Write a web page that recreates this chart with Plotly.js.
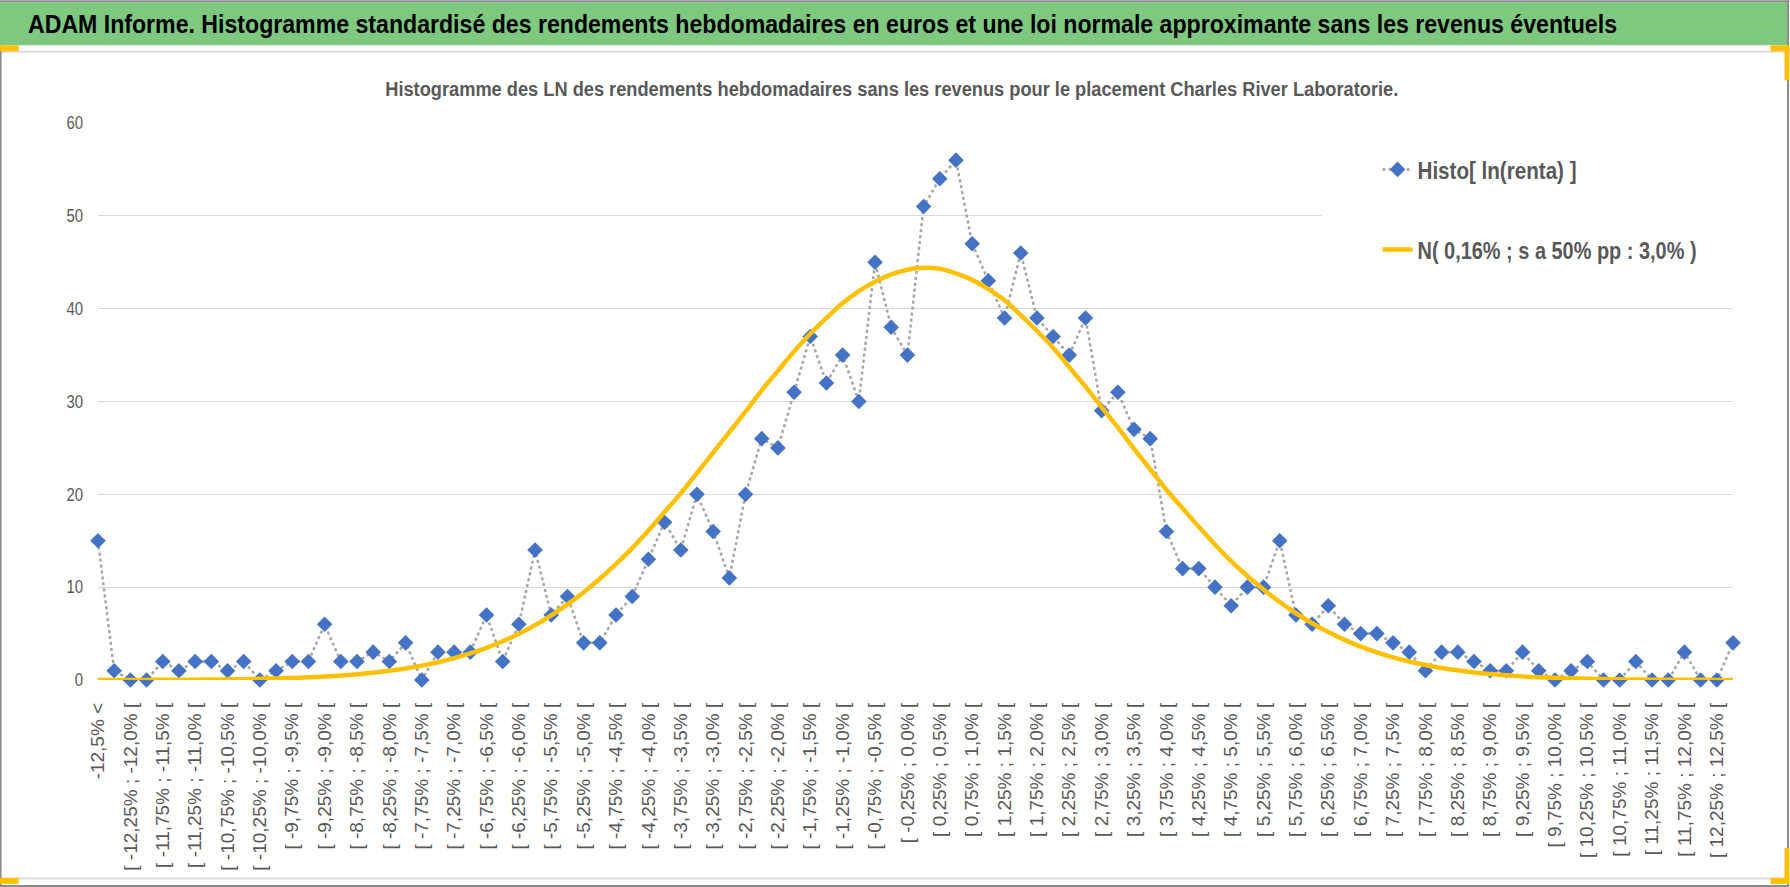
<!DOCTYPE html>
<html>
<head>
<meta charset="utf-8">
<script src="https://cdn.plot.ly/plotly-3.0.1.min.js"></script>
<style>
  html, body { margin: 0; padding: 0; background: #ffffff; }
  #chart { width: 1790px; height: 887px; }
</style>
</head>
<body>
<div id="chart"></div>
<script>
// ---- Category labels (bins of the weekly log-returns) ----
var binLabels = [
  "-12,5% <",
  "[ -12,5% ; -12,25% [", "[ -12,25% ; -12,0% [", "[ -12,0% ; -11,75% [", "[ -11,75% ; -11,5% [",
  "[ -11,5% ; -11,25% [", "[ -11,25% ; -11,0% [", "[ -11,0% ; -10,75% [", "[ -10,75% ; -10,5% [",
  "[ -10,5% ; -10,25% [", "[ -10,25% ; -10,0% [", "[ -10,0% ; -9,75% [", "[ -9,75% ; -9,5% [",
  "[ -9,5% ; -9,25% [", "[ -9,25% ; -9,0% [", "[ -9,0% ; -8,75% [", "[ -8,75% ; -8,5% [",
  "[ -8,5% ; -8,25% [", "[ -8,25% ; -8,0% [", "[ -8,0% ; -7,75% [", "[ -7,75% ; -7,5% [",
  "[ -7,5% ; -7,25% [", "[ -7,25% ; -7,0% [", "[ -7,0% ; -6,75% [", "[ -6,75% ; -6,5% [",
  "[ -6,5% ; -6,25% [", "[ -6,25% ; -6,0% [", "[ -6,0% ; -5,75% [", "[ -5,75% ; -5,5% [",
  "[ -5,5% ; -5,25% [", "[ -5,25% ; -5,0% [", "[ -5,0% ; -4,75% [", "[ -4,75% ; -4,5% [",
  "[ -4,5% ; -4,25% [", "[ -4,25% ; -4,0% [", "[ -4,0% ; -3,75% [", "[ -3,75% ; -3,5% [",
  "[ -3,5% ; -3,25% [", "[ -3,25% ; -3,0% [", "[ -3,0% ; -2,75% [", "[ -2,75% ; -2,5% [",
  "[ -2,5% ; -2,25% [", "[ -2,25% ; -2,0% [", "[ -2,0% ; -1,75% [", "[ -1,75% ; -1,5% [",
  "[ -1,5% ; -1,25% [", "[ -1,25% ; -1,0% [", "[ -1,0% ; -0,75% [", "[ -0,75% ; -0,5% [",
  "[ -0,5% ; -0,25% [", "[ -0,25% ; 0,0% [",
  "[ 0,0% ; 0,25% [", "[ 0,25% ; 0,5% [", "[ 0,5% ; 0,75% [", "[ 0,75% ; 1,0% [",
  "[ 1,0% ; 1,25% [", "[ 1,25% ; 1,5% [", "[ 1,5% ; 1,75% [", "[ 1,75% ; 2,0% [",
  "[ 2,0% ; 2,25% [", "[ 2,25% ; 2,5% [", "[ 2,5% ; 2,75% [", "[ 2,75% ; 3,0% [",
  "[ 3,0% ; 3,25% [", "[ 3,25% ; 3,5% [", "[ 3,5% ; 3,75% [", "[ 3,75% ; 4,0% [",
  "[ 4,0% ; 4,25% [", "[ 4,25% ; 4,5% [", "[ 4,5% ; 4,75% [", "[ 4,75% ; 5,0% [",
  "[ 5,0% ; 5,25% [", "[ 5,25% ; 5,5% [", "[ 5,5% ; 5,75% [", "[ 5,75% ; 6,0% [",
  "[ 6,0% ; 6,25% [", "[ 6,25% ; 6,5% [", "[ 6,5% ; 6,75% [", "[ 6,75% ; 7,0% [",
  "[ 7,0% ; 7,25% [", "[ 7,25% ; 7,5% [", "[ 7,5% ; 7,75% [", "[ 7,75% ; 8,0% [",
  "[ 8,0% ; 8,25% [", "[ 8,25% ; 8,5% [", "[ 8,5% ; 8,75% [", "[ 8,75% ; 9,0% [",
  "[ 9,0% ; 9,25% [", "[ 9,25% ; 9,5% [", "[ 9,5% ; 9,75% [", "[ 9,75% ; 10,0% [",
  "[ 10,0% ; 10,25% [", "[ 10,25% ; 10,5% [", "[ 10,5% ; 10,75% [", "[ 10,75% ; 11,0% [",
  "[ 11,0% ; 11,25% [", "[ 11,25% ; 11,5% [", "[ 11,5% ; 11,75% [", "[ 11,75% ; 12,0% [",
  "[ 12,0% ; 12,25% [", "[ 12,25% ; 12,5% [",
  "12,5% ≤"
];

// ---- Histogram counts ----
var histoCounts = [
  15, 1, 0, 0, 2, 1, 2, 2, 1, 2,
  0, 1, 2, 2, 6, 2, 2, 3, 2, 4,
  0, 3, 3, 3, 7, 2, 6, 14, 7, 9,
  4, 4, 7, 9, 13, 17, 14, 20, 16, 11,
  20, 26, 25, 31, 37, 32, 35, 30, 45, 38,
  35, 51, 54, 56, 47, 43, 39, 46, 39, 37,
  35, 39, 29, 31, 27, 26, 16, 12, 12, 10,
  8, 10, 10, 15, 7, 6, 8, 6, 5, 5,
  4, 3, 1, 3, 3, 2, 1, 1, 3, 1,
  0, 1, 2, 0, 0, 2, 0, 0, 3, 0,
  0, 4
];

// ---- Approximating normal curve ----
var normalCurve = [
  0, 0.01, 0.01, 0.01, 0.02, 0.02, 0.04, 0.05, 0.07, 0.09,
  0.13, 0.17, 0.22, 0.29, 0.37, 0.48, 0.62, 0.78, 0.99, 1.24,
  1.55, 1.91, 2.35, 2.86, 3.47, 4.17, 4.98, 5.91, 6.96, 8.14,
  9.46, 10.9, 12.5, 14.2, 16.1, 18.1, 20.1, 22.3, 24.5, 26.7,
  28.9, 31.2, 33.3, 35.4, 37.3, 39.0, 40.6, 41.9, 42.9, 43.7,
  44.2, 44.4, 44.3, 43.8, 43.1, 42.1, 40.9, 39.3, 37.6, 35.8,
  33.7, 31.6, 29.4, 27.2, 24.9, 22.7, 20.5, 18.5, 16.5, 14.6,
  12.8, 11.2, 9.75, 8.40, 7.19, 6.11, 5.16, 4.32, 3.60, 2.98,
  2.44, 1.99, 1.61, 1.30, 1.04, 0.82, 0.65, 0.51, 0.39, 0.30,
  0.23, 0.18, 0.13, 0.10, 0.07, 0.05, 0.04, 0.03, 0.02, 0.02,
  0.01, 0.01
];

var seriesNames = ["Histo[ ln(renta) ]", "N( 0,16% ; s a 50% pp : 3,0% )"];
var bannerText = "ADAM Informe. Histogramme standardisé des rendements hebdomadaires en euros et une loi normale approximante sans les revenus éventuels";
var chartTitle = "Histogramme des LN des rendements hebdomadaires sans les revenus pour le placement Charles River Laboratorie.";
var yTicks = [0, 10, 20, 30, 40, 50, 60];

// ---- Layout geometry ----
var W = 1790, H = 887;
var M = { l: 98.4, r: 56.5, t: 122.7, b: 207 };
var plotW = W - M.l - M.r, plotH = H - M.t - M.b;
function px(x) { return (x - M.l) / plotW; }
function py(y) { return (H - M.b - y) / plotH; }

var SANS = "'Liberation Sans', Arial, sans-serif";
var GREY_TXT = "#595959";

var traces = [
  {
    type: "scatter", mode: "lines+markers",
    x: binLabels, y: histoCounts,
    name: seriesNames[0], legendgroup: "g1",
    line: { color: "#a5a5a5", width: 2.5, dash: "dot" },
    marker: { symbol: "diamond", size: 12, color: "#4472c4", line: { width: 0 } },
    cliponaxis: false, hoverinfo: "x+y"
  },
  {
    type: "scatter", mode: "lines",
    x: binLabels, y: normalCurve,
    name: seriesNames[1], legendgroup: "g2",
    line: { color: "#ffc000", width: 4.5, shape: "spline", smoothing: 1 },
    cliponaxis: false, hoverinfo: "x+y"
  }
];

function rect(x0, y0, x1, y1, fill) {
  return { type: "rect", xref: "paper", yref: "paper", x0: px(x0), x1: px(x1), y0: py(y0), y1: py(y1),
           fillcolor: fill, line: { width: 0 }, layer: "above" };
}
function hline(x0, x1, y, color, w) {
  return { type: "line", xref: "paper", yref: "paper", x0: px(x0), x1: px(x1), y0: py(y), y1: py(y),
           line: { color: color, width: w }, layer: "above" };
}
function vline(x, y0, y1, color, w) {
  return { type: "line", xref: "paper", yref: "paper", x0: px(x), x1: px(x), y0: py(y0), y1: py(y1),
           line: { color: color, width: w }, layer: "above" };
}

var ORANGE = "#ffc000";
var shapes = [
  rect(0, 2, 1788, 45, "#7ec87f"),
  hline(0, 1790, 1, "#8c8c8c", 2),
  hline(0, 1788, 51.5, "#dcdcdc", 2),
  hline(0, 1788, 878.5, "#dcdcdc", 2),
  hline(0, 1790, 886, "#8c8c8c", 2),
  vline(1, 45, 887, "#8c8c8c", 2),
  vline(1788.5, 0, 887, "#8c8c8c", 2),
  rect(1322, 128, 1742, 290, "#ffffff"),
  rect(0, 45, 19, 51, ORANGE),
  rect(1771, 45, 1790, 51, ORANGE),
  rect(1785, 45, 1790, 80, ORANGE),
  rect(0, 878, 19, 884, ORANGE),
  rect(1771, 878, 1790, 884, ORANGE),
  rect(1785, 848, 1790, 884, ORANGE)
];

var layout = {
  width: W, height: H,
  margin: M,
  paper_bgcolor: "#ffffff", plot_bgcolor: "#ffffff",
  showlegend: true,
  title: {
    text: bannerText,
    xref: "container", yref: "container",
    x: 28 / W, xanchor: "left",
    y: 1 - 24 / H, yanchor: "middle",
    font: { family: SANS, size: 25, color: "#000000", weight: "bold" }
  },
  annotations: [
    {
      text: chartTitle, showarrow: false,
      xref: "paper", yref: "paper",
      x: px(892.5), xanchor: "center",
      y: py(89), yanchor: "middle",
      font: { family: SANS, size: 20, color: GREY_TXT, weight: "bold" }
    }
  ],
  xaxis: {
    type: "category",
    categoryorder: "array", categoryarray: binLabels,
    range: [0, binLabels.length - 1],
    tickmode: "linear", tick0: 0, dtick: 2,
    ticks: "", showgrid: false, showline: false, zeroline: false,
    tickangle: -90,
    tickfont: { family: SANS, size: 19, color: GREY_TXT },
    ticklabelstandoff: 18,
    automargin: false, fixedrange: true,
    layer: "below traces"
  },
  xaxis2: {
    type: "linear", overlaying: "x", anchor: "y", side: "bottom",
    range: [0, binLabels.length - 1],
    tickmode: "linear", tick0: 0, dtick: 4,
    ticks: "outside", ticklen: 7, tickwidth: 2, tickcolor: "#000000",
    showticklabels: false,
    showgrid: true, gridcolor: "#d9d9d9", gridwidth: 1,
    showline: true, linecolor: "#000000", linewidth: 2,
    zeroline: false, automargin: false, fixedrange: true,
    layer: "below traces"
  },
  xaxis3: {
    type: "linear", overlaying: "x", anchor: "y", side: "bottom",
    range: [0, binLabels.length - 1],
    tickmode: "linear", tick0: 0, dtick: 4,
    ticks: "inside", ticklen: 5, tickwidth: 2, tickcolor: "#000000",
    showticklabels: false, showgrid: false, showline: false,
    zeroline: false, automargin: false, fixedrange: true,
    layer: "below traces"
  },
  yaxis: {
    range: [0, 60],
    tickmode: "array", tickvals: yTicks,
    ticks: "", showline: false, zeroline: false,
    showgrid: true, gridcolor: "#d9d9d9", gridwidth: 1,
    tickfont: { family: SANS, size: 18, color: GREY_TXT },
    ticklabelstandoff: 14,
    automargin: false, fixedrange: true
  },
  legend: {
    x: px(1378), xanchor: "left",
    y: py(147), yanchor: "top",
    bgcolor: "rgba(0,0,0,0)",
    font: { family: SANS, size: 24, color: GREY_TXT, weight: "bold" },
    traceorder: "grouped",
    tracegroupgap: 46
  },
  shapes: shapes
};

// Condense the Calibri-like texts to the widths of the reference
function fitWidth(el, w) {
  if (!el) return;
  el.setAttribute("textLength", w);
  el.setAttribute("lengthAdjust", "spacingAndGlyphs");
}

Plotly.newPlot("chart", traces, layout, { displayModeBar: false, staticPlot: true }).then(function (gd) {
  fitWidth(gd.querySelector(".gtitle"), 1589);
  fitWidth(gd.querySelector(".annotation-text"), 1013);
  var lt = gd.querySelectorAll(".legendtext");
  if (lt.length > 1) { fitWidth(lt[0], 159); fitWidth(lt[1], 279); }
  var yt = gd.querySelectorAll(".ytick text");
  for (var i = 0; i < yt.length; i++) {
    fitWidth(yt[i], yt[i].textContent.length * 8.3);
  }
});
</script>
</body>
</html>
